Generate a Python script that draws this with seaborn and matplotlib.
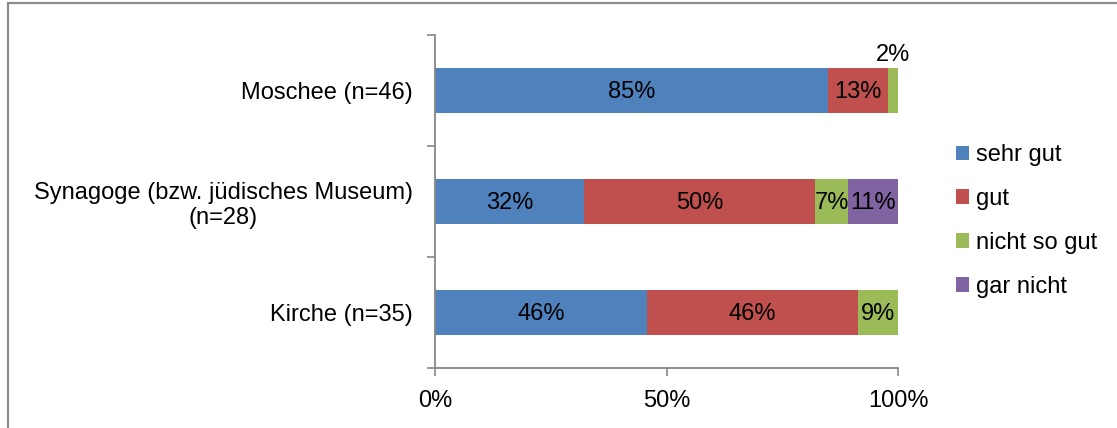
import matplotlib
matplotlib.use("Agg")
import matplotlib.pyplot as plt
from matplotlib.patches import Rectangle, Patch
import seaborn as sns
import pandas as pd
import numpy as np

# ---- data ----
categories = ["Moschee (n=46)", "Synagoge (bzw. jüdisches Museum)\n(n=28)", "Kirche (n=35)"]
series = ["sehr gut", "gut", "nicht so gut", "gar nicht"]
sehr_gut = [84.8, 32.1, 45.7]
gut = [13.0, 50.0, 45.7]
nicht_so_gut = [2.2, 7.1, 8.6]
gar_nicht = [0.0, 10.7, 0.0]
x_ticks = [0, 50, 100]
x_tick_labels = ["0%", "50%", "100%"]

colors = ["#4F81BD", "#C0504D", "#9BBB59", "#8064A2"]

sns.set_style("white")
plt.rcParams["font.family"] = ["Liberation Sans", "DejaVu Sans"]
plt.rcParams["text.color"] = "black"
plt.rcParams["xtick.labelcolor"] = "black"
plt.rcParams["ytick.labelcolor"] = "black"
FS = 17

values = np.array([sehr_gut, gut, nicht_so_gut, gar_nicht])
cum = np.cumsum(values, axis=0)
starts = cum - values

W, H = 1117, 428
fig = plt.figure(figsize=(W / 100, H / 100), dpi=100)
ax = fig.add_axes([435 / W, (H - 368) / H, (898 - 435) / W, (368 - 35) / H])

# draw cumulative totals from largest to smallest so each segment shows
for i in range(len(series) - 1, -1, -1):
    df = pd.DataFrame({"cat": categories, "val": cum[i]})
    sns.barplot(data=df, x="val", y="cat", orient="h", color=colors[i],
                saturation=1, width=0.4, edgecolor="none", linewidth=0, ax=ax)

# data labels
for i in range(len(series)):
    for j in range(len(categories)):
        v = values[i, j]
        if v <= 0:
            continue
        cx = starts[i, j] + v / 2
        txt = f"{v:.0f}%"
        if v < 4:
            ax.text(cx, j - 0.2 - 0.02, txt, ha="center", va="bottom", fontsize=FS, color="black")
        else:
            ax.text(cx, j + 0.01, txt, ha="center", va="center", fontsize=FS, color="black")

ax.set_xlim(0, 100)
ax.set_ylim(2.5, -0.5)
ax.set_xlabel("")
ax.set_ylabel("")

ax.set_xticks(x_ticks)
ax.set_xticklabels(x_tick_labels, fontsize=FS)
ax.set_yticks([-0.5, 0.5, 1.5, 2.5])
ax.set_yticklabels([])
ax.set_yticks(range(len(categories)), minor=True)
ax.set_yticklabels(categories, minor=True, fontsize=FS)
for lab in ax.get_yticklabels(minor=True):
    lab.set_multialignment("center")
    lab.set_color("black")

axis_color = "#868686"
ax.tick_params(axis="y", which="major", length=6, width=1.2, color=axis_color, direction="out", left=True)
ax.tick_params(axis="y", which="minor", length=0, pad=16)
ax.tick_params(axis="x", which="major", length=6, width=1.2, color=axis_color, direction="out", bottom=True, pad=10)

for s in ["top", "right"]:
    ax.spines[s].set_visible(False)
for s in ["left", "bottom"]:
    ax.spines[s].set_color(axis_color)
    ax.spines[s].set_linewidth(1.3)

handles = [Patch(facecolor=c, edgecolor="none") for c in colors]
fig.legend(handles, series, loc="upper left", bbox_to_anchor=(956 / W, 1 - 144 / H),
           frameon=False, fontsize=FS, handlelength=0.55, handleheight=0.55,
           handletextpad=0.3, labelspacing=0.93, borderpad=0, borderaxespad=0,
           labelcolor="black")

# outer frame
fig.patches.append(Rectangle((8 / W, -0.05), 1.2, 1 - 3 / H + 0.05, transform=fig.transFigure,
                             fill=False, edgecolor="#8C8C8C", linewidth=1.6))

fig.savefig("out.png", dpi=100)
